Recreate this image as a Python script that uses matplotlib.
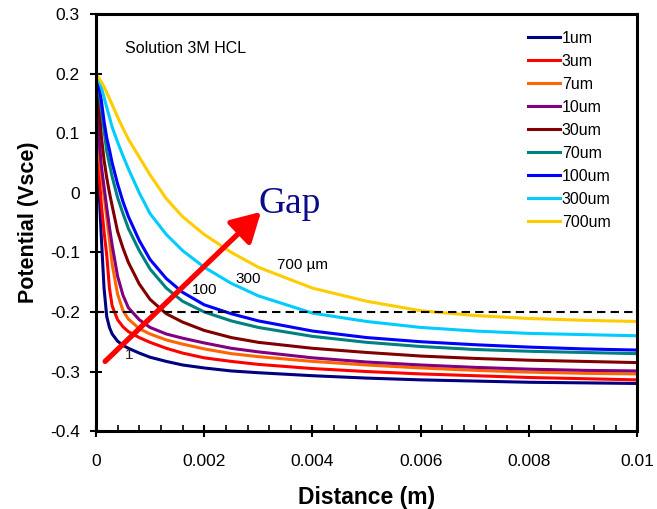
import matplotlib
matplotlib.use("Agg")
import matplotlib.pyplot as plt
from matplotlib.ticker import MultipleLocator, FuncFormatter

plt.rcParams['font.family'] = ['Liberation Sans', 'DejaVu Sans']
plt.rcParams['axes.unicode_minus'] = False

# distance from the surface (m)
distance = [0, 0.00005, 0.0001, 0.00015, 0.0002, 0.00025, 0.0003, 0.0004, 0.0005,
            0.0006, 0.0008, 0.001, 0.0013, 0.0016, 0.002, 0.0025, 0.003, 0.004,
            0.005, 0.006, 0.007, 0.008, 0.009, 0.01]

gap_labels = ['1um', '3um', '7um', '10um', '30um', '70um', '100um', '300um', '700um']

# potential (Vsce) for each gap
pot_1um = [0.2, 0.02, -0.075, -0.16, -0.208, -0.226, -0.237, -0.249, -0.256,
           -0.261, -0.269, -0.276, -0.283, -0.289, -0.294, -0.299, -0.302, -0.307,
           -0.311, -0.314, -0.316, -0.318, -0.319, -0.32]
pot_3um = [0.2, 0.04, -0.02, -0.065, -0.105, -0.16, -0.19, -0.213, -0.225,
           -0.233, -0.243, -0.251, -0.261, -0.269, -0.277, -0.283, -0.288, -0.295,
           -0.3, -0.304, -0.307, -0.31, -0.312, -0.314]
pot_7um = [0.2, 0.072, 0.03, -0.005, -0.042, -0.08, -0.12, -0.17, -0.198,
           -0.212, -0.228, -0.237, -0.247, -0.254, -0.262, -0.27, -0.275, -0.283,
           -0.289, -0.294, -0.298, -0.301, -0.303, -0.304]
pot_10um = [0.2, 0.1, 0.045, 0.01, -0.025, -0.058, -0.088, -0.14, -0.172,
            -0.193, -0.213, -0.226, -0.237, -0.244, -0.252, -0.261, -0.267, -0.277,
            -0.284, -0.289, -0.293, -0.296, -0.298, -0.299]
pot_30um = [0.2, 0.16, 0.095, 0.055, 0.025, 0.0, -0.022, -0.065, -0.093,
            -0.117, -0.153, -0.179, -0.203, -0.217, -0.231, -0.243, -0.251, -0.261,
            -0.268, -0.274, -0.278, -0.281, -0.283, -0.285]
pot_70um = [0.2, 0.175, 0.14, 0.105, 0.07, 0.048, 0.027, -0.008, -0.035,
            -0.06, -0.097, -0.128, -0.16, -0.182, -0.2, -0.215, -0.226, -0.241,
            -0.251, -0.258, -0.263, -0.266, -0.268, -0.27]
pot_100um = [0.2, 0.182, 0.155, 0.12, 0.092, 0.072, 0.05, 0.015, -0.015,
             -0.04, -0.08, -0.112, -0.144, -0.167, -0.188, -0.203, -0.215, -0.232,
             -0.243, -0.25, -0.255, -0.259, -0.262, -0.264]
pot_300um = [0.2, 0.19, 0.177, 0.16, 0.143, 0.127, 0.11, 0.085, 0.062,
             0.04, 0.0, -0.035, -0.07, -0.097, -0.125, -0.152, -0.173, -0.202,
             -0.216, -0.226, -0.232, -0.236, -0.238, -0.24]
pot_700um = [0.2, 0.193, 0.186, 0.178, 0.168, 0.158, 0.148, 0.127, 0.108,
             0.09, 0.06, 0.03, -0.01, -0.04, -0.07, -0.1, -0.125, -0.16,
             -0.182, -0.198, -0.206, -0.211, -0.214, -0.216]

series = [pot_1um, pot_3um, pot_7um, pot_10um, pot_30um, pot_70um, pot_100um, pot_300um, pot_700um]
colors = ['#000080', '#ff0000', '#ff6600', '#800080', '#800000', '#008080', '#0000ff', '#00ccff', '#ffcc00']

fig = plt.figure(figsize=(6.57, 5.09), dpi=100)
ax = fig.add_axes([0.146, 0.153, 0.824, 0.8195])

for ys, c, lab in zip(series, colors, gap_labels):
    ax.plot(distance, ys, color=c, lw=2.2, label=lab, solid_joinstyle='round')

# reference level
ax.plot([0, 0.01], [-0.2, -0.2], color='black', lw=1.5, ls=(0, (4, 2.5)))

ax.set_xlim(0, 0.01)
ax.set_ylim(-0.4, 0.3)
ax.xaxis.set_major_locator(MultipleLocator(0.002))
ax.xaxis.set_minor_locator(MultipleLocator(0.0004))
ax.yaxis.set_major_locator(MultipleLocator(0.1))
ax.xaxis.set_major_formatter(FuncFormatter(lambda v, p: '%g' % round(v, 4)))
ax.yaxis.set_major_formatter(FuncFormatter(lambda v, p: '%g' % round(v, 2)))
ax.tick_params(axis='both', which='major', direction='inout', length=9, width=1.5, labelsize=12.5)
ax.tick_params(axis='y', which='major', pad=7)
ax.tick_params(axis='x', which='major', pad=12)
ax.tick_params(axis='x', which='minor', direction='in', length=4, width=1.2)
for s in ax.spines.values():
    s.set_linewidth(2.2)

ax.set_xlabel('Distance (m)', fontsize=16.5, fontweight='bold', labelpad=12)
ax.set_ylabel('Potential (Vsce)', fontsize=15.5, fontweight='bold', labelpad=8)

ax.text(0.00054, 0.242, 'Solution 3M HCL', fontsize=11.5, va='center')

ax.annotate('', xy=(0.00305, -0.032), xytext=(0.00017, -0.283),
            arrowprops=dict(arrowstyle='-|>,head_length=0.8,head_width=0.45',
                            color='red', lw=3.8, mutation_scale=22, shrinkA=0, shrinkB=0))
ax.text(0.003, -0.034, 'Gap', fontsize=27, color='#0a0a8a', family='Liberation Serif', va='baseline')
ax.text(0.00062, -0.273, '1', fontsize=11, ha='center', va='center', color='#222222')
ax.text(0.002, -0.163, '100', fontsize=11, ha='center', va='center')
ax.text(0.00282, -0.145, '300', fontsize=11, ha='center', va='center')
ax.text(0.00381, -0.121, '700 \u00b5m', fontsize=11, ha='center', va='center')

ax.legend(loc='upper left', bbox_to_anchor=(0.787, 0.975), frameon=False, fontsize=11.5,
          handlelength=1.95, labelspacing=0.5, handletextpad=0.15, borderaxespad=0)

fig.savefig('out.png', dpi=100)
